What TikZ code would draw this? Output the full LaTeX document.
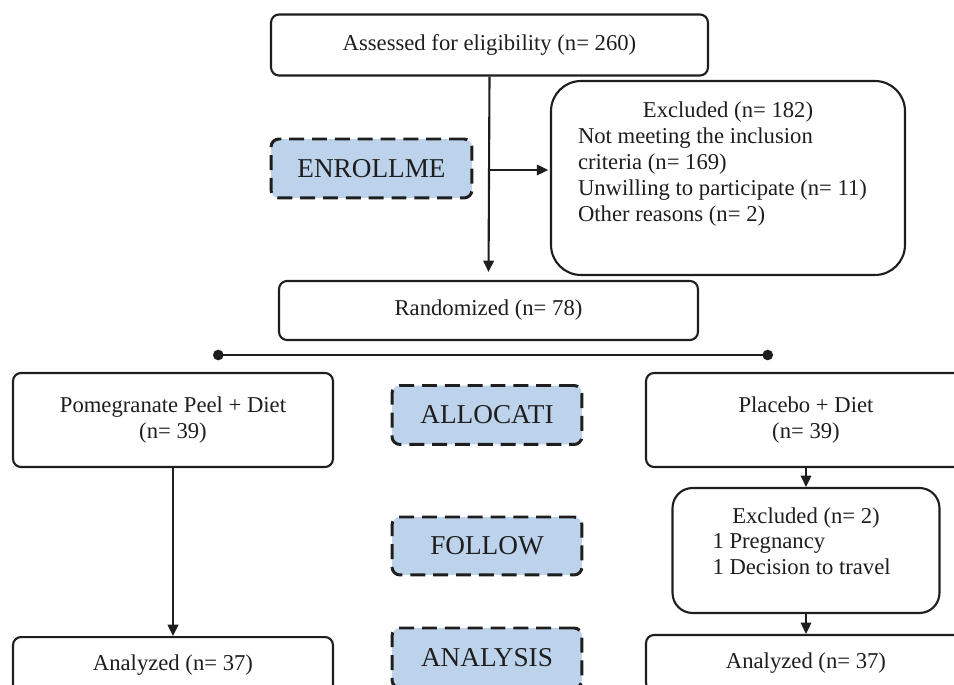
\documentclass[tikz,border=0pt]{standalone}
\usepackage{fontspec}
\setmainfont{Liberation Serif}
\usetikzlibrary{arrows.meta, positioning}
\definecolor{ink}{HTML}{1E1E1E}
\definecolor{stagefill}{HTML}{BDD3EC}

\begin{document}
\begin{tikzpicture}[
    x=0.02cm, y=-0.02cm,
    block/.style={draw=ink, line width=1.2pt, rounded corners=0.16cm, fill=white,
                  font=\fontsize{12.9}{14.7}\selectfont, text=ink, align=center, inner sep=0pt},
    stage/.style={draw=ink, fill=stagefill, line width=1.7pt, dash pattern=on 8.5pt off 4.5pt,
                  rounded corners=0.16cm, minimum width=3.8cm, minimum height=1.18cm,
                  font=\fontsize{15.5}{18}\selectfont, text=ink},
    arrow/.style={-{Triangle[length=6.5pt, width=6pt]}, line width=1.2pt, draw=ink},
    split/.style={{Circle[length=6pt]}-{Circle[length=6pt]}, line width=0.8pt, draw=ink},
]
    \useasboundingbox (0,0) rectangle (954,685);
    \clip (0,0) rectangle (954,685);
    \node[block, minimum width=8.74cm, minimum height=1.22cm] (assess) at (489.5,45)
         {Assessed for eligibility (n= 260)};
    \node[stage, minimum width=4.02cm] (enroll) at (371.5,168.5) {ENROLLME};
    \node[block, rounded corners=0.6cm, minimum width=7.08cm] (excl) at (728,178)
         {\parbox[c][3.88cm][t]{6cm}{\raggedright\vspace*{12pt}%
          \makebox[\linewidth]{Excluded (n= 182)}\\
          Not meeting the inclusion\\
          criteria (n= 169)\\
          Unwilling to participate (n= 11)\\
          Other reasons (n= 2)}};
    \node[block, minimum width=8.38cm, minimum height=1.18cm] (rand) at (488.5,310.5)
         {Randomized (n= 78)};
    \coordinate (fork) at (489,170);
    \draw[arrow, shorten >=4.5pt] (assess.south) -- (rand.north);
    \draw[arrow, shorten >=1pt] (fork) -- (excl.west |- fork);
    \coordinate (splitL) at (213,355);
    \coordinate (splitR) at (773,355);
    \draw[split] (splitL) -- (splitR);
    \node[block, minimum width=6.4cm, minimum height=1.88cm] (pom) at (173,420)
         {Pomegranate Peel + Diet\\(n= 39)};
    \node[block, minimum width=6.4cm, minimum height=1.88cm] (pla) at (806,420)
         {Placebo + Diet\\(n= 39)};
    \node[stage] (alloc) at (487,415) {ALLOCATI};
    \node[block, rounded corners=0.4cm, minimum width=5.34cm] (ex2) at (806,550.5)
         {\parbox[c][2.5cm][t]{3.74cm}{\raggedright\vspace*{11pt}%
          \makebox[\linewidth]{Excluded (n= 2)}\\
          1 Pregnancy\\
          1 Decision to travel}};
    \node[stage, minimum height=1.16cm] (follow) at (487,546) {FOLLOW};
    \node[block, minimum width=6.4cm, minimum height=1.12cm, below=3.36cm of pom] (anaL)
         {Analyzed (n= 37)};
    \node[block, minimum width=6.4cm, minimum height=1.12cm] (anaR) at (806,663)
         {Analyzed (n= 37)};
    \node[stage, minimum height=1.2cm] (analysis) at (487,658) {ANALYSIS};
    \draw[arrow] (pom) -- (anaL);
    \draw[arrow] (pla) -- (ex2);
    \draw[arrow] (ex2) -- (anaR);
\end{tikzpicture}
\end{document}
